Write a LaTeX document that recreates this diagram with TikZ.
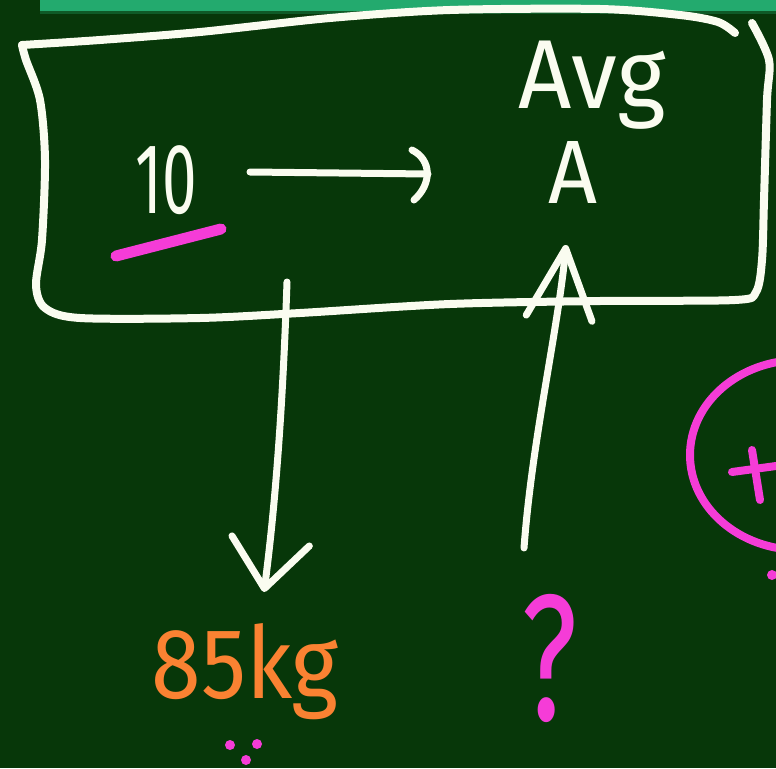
\documentclass[tikz,border=0pt]{standalone}
\usepackage{fontspec}
\setmainfont{Fira Sans}
\usetikzlibrary{arrows.meta,calc}
\definecolor{board}{RGB}{7,55,9}
\definecolor{chalk}{RGB}{250,252,240}
\definecolor{pinkc}{RGB}{245,60,215}
\definecolor{orangec}{RGB}{250,130,50}
\definecolor{strip}{RGB}{35,170,110}
\tikzset{
  chalkline/.style={draw=chalk, line width=8pt, line cap=round, line join=round},
  arrowline/.style={draw=chalk, line width=7pt, line cap=round, line join=round},
  pinkline/.style={draw=pinkc, line width=8pt, line cap=round},
  hand/.style={inner sep=0pt, font=\fontsize{#1}{#1}\selectfont},
}
\begin{document}
\begin{tikzpicture}[x=1pt,y=-1pt]
\fill[board] (0,0) rectangle (776,768);
\useasboundingbox (0,0) rectangle (776,768);
\fill[strip] (40,0) rectangle (776,11);
\fill[board!70!strip] (40,11) rectangle (776,14);
% box
\draw[chalkline] plot[smooth, tension=0.5] coordinates {(735,33) (718,22) (680,15) (600,9) (450,10) (330,18) (200,32) (100,40) (22,45)};
\draw[chalkline] plot[smooth, tension=0.5] coordinates {(22,45) (26,60) (40,100) (45,160) (42,240) (36,285) (45,308) (80,318) (200,318) (300,313) (450,304) (600,301) (735,300) (756,292) (762,260) (764,200) (767,100) (769,60) (752,23)};
% texts
\node[hand=100, text=chalk] (ten) at (166,180) {\scalebox{0.62}[1]{10}};
\node[hand=98, text=chalk] (avg) at (592,85) {\scalebox{0.95}[1]{Avg}};
\node[hand=90, text=chalk] (A) at (573,172) {\scalebox{0.95}[1]{A}};
\node[hand=100, text=orangec] (kg) at (245,672) {\scalebox{0.9}[1]{85kg}};
\node[hand=180, text=pinkc] (q) at (550,658) {\scalebox{0.68}[1]{?}};
% pink underline
\draw[pinkline, line width=11pt] (116,256) -- (221,229);
% dots
\fill[pinkc] (230,745) circle (5) (257,744) circle (5) (246,760) circle (5);
\fill[pinkc] (772,575) circle (5);
% pink circle and plus
\draw[pinkc, line width=8pt] (800,455) ellipse (110 and 95);
\draw[pinkline] (732,472) -- (776,466);
\draw[pinkline] (752,450) -- (760,500);
% arrows
\coordinate (hs) at (250,172);
\coordinate (he) at (428,174);
\draw[arrowline] (hs) -- (he);
\draw[arrowline] ($(he)+(-16,-24)$) .. controls ($(he)+(4,-14)$) and ($(he)+(4,10)$) .. ($(he)+(-14,26)$);
\coordinate (ds) at (287,282);
\coordinate (de) at (264,592);
\draw[arrowline, -{Straight Barb[length=48pt,width=78pt,line width=7pt,round]}] (ds) .. controls (283,400) and (276,500) .. (de);
\coordinate (us) at (524,548);
\coordinate (ue) at (566,245);
\draw[arrowline, -{Straight Barb[length=70pt,width=66pt,line width=7pt,round]}] (us) .. controls (532,440) and (558,330) .. (ue);
\end{tikzpicture}
\end{document}
